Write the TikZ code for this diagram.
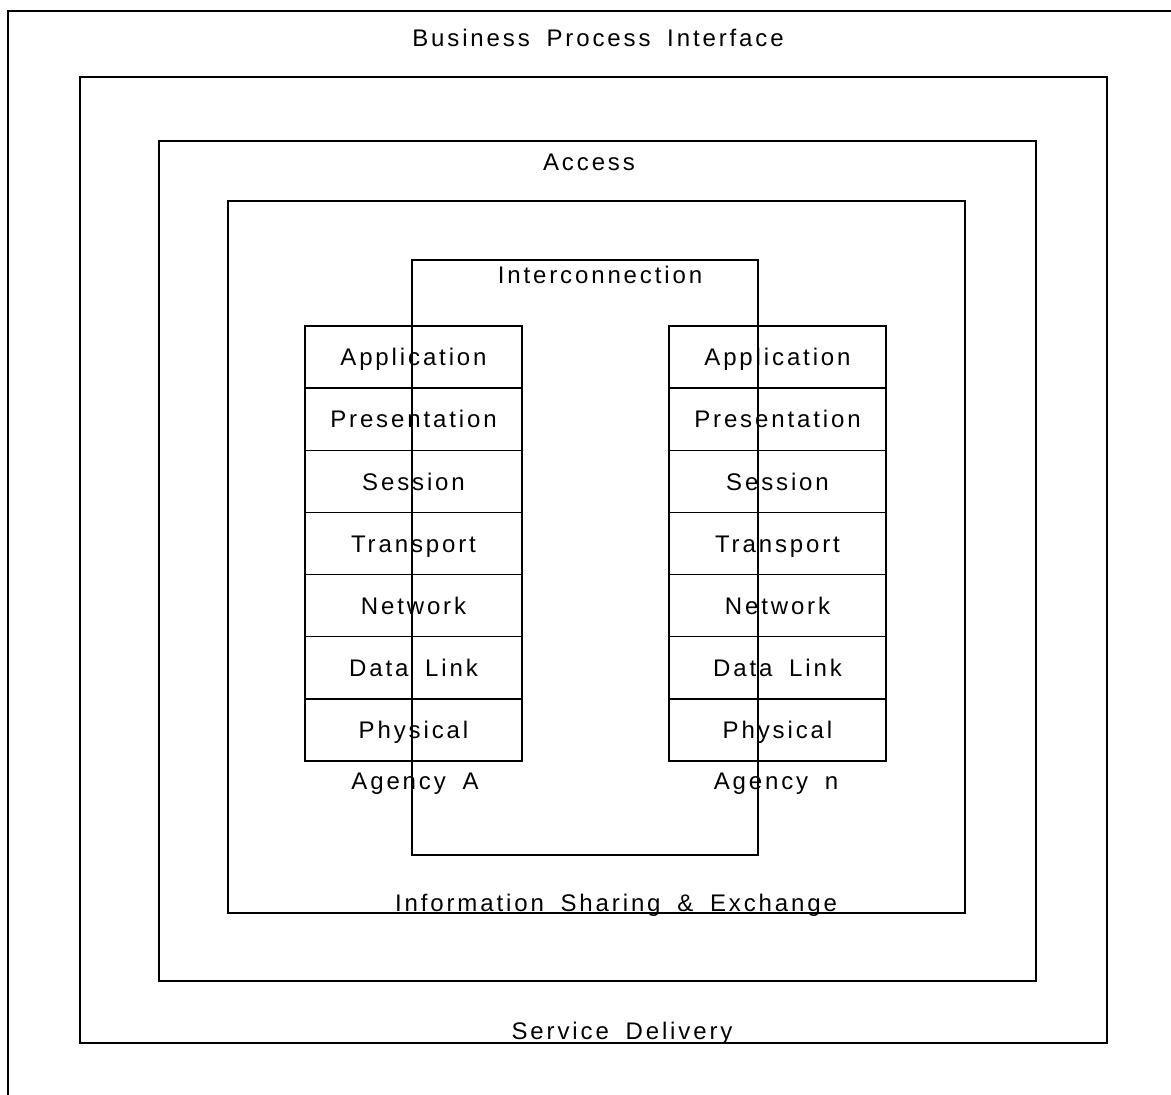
\documentclass[tikz,border=0pt]{standalone}
\usepackage{fontspec}
\setmainfont{Liberation Sans}[LetterSpace=12,WordSpace=1.75]
\begin{document}
\begin{tikzpicture}[x=1pt,y=-1pt,
  frame/.style={draw=black,line width=1.4pt},
  lbl/.style={anchor=base,inner sep=0pt,font=\fontsize{24}{28}\selectfont},
  layer/.style={draw=black,line width=1.4pt,minimum width=217pt,minimum height=62.14pt,
    inner sep=0pt,font=\fontsize{24}{28}\selectfont,text height=17.5pt,text depth=0pt}]
\useasboundingbox (0,0) rectangle (1171,1095);
\clip (0,0) rectangle (1171,1095);
\fill[white] (0,0) rectangle (1171,1095);
% nested frames
\draw[frame] (8,11) rectangle (1190,1115);
\draw[frame] (80,77) rectangle (1107,1043);
\draw[frame] (159,141) rectangle (1036,981);
\draw[frame] (228,201) rectangle (965,913);
\draw[frame] (412,260) rectangle (758,855);
% frame captions
\node[lbl] (bpi) at (598,46) {Business Process Interface};
\node[lbl] (acc) at (589,170) {Access};
\node[lbl] (ic) at (600,283) {Interconnection};
\node[lbl] (ise) at (616,911) {Information Sharing \& Exchange};
\node[lbl] (sd) at (622,1039) {Service Delivery};
% protocol stacks
\foreach \side/\cx in {A/413.5,n/777.5}{
  \foreach \name [count=\i from 0] in {Application,Presentation,Session,Transport,Network,Data Link,Physical}{
    \node[layer] (\side-\i) at (\cx,{326+62.14*(\i+0.5)}) {\name};
  }
}
\node[lbl] (agA) at (415,789) {Agency A};
\node[lbl] (agn) at (776,789) {Agency n};
% interconnection box lines drawn over the stacks
\draw[frame] (412,260) -- (412,855);
\draw[frame] (758,260) -- (758,855);
\end{tikzpicture}
\end{document}
